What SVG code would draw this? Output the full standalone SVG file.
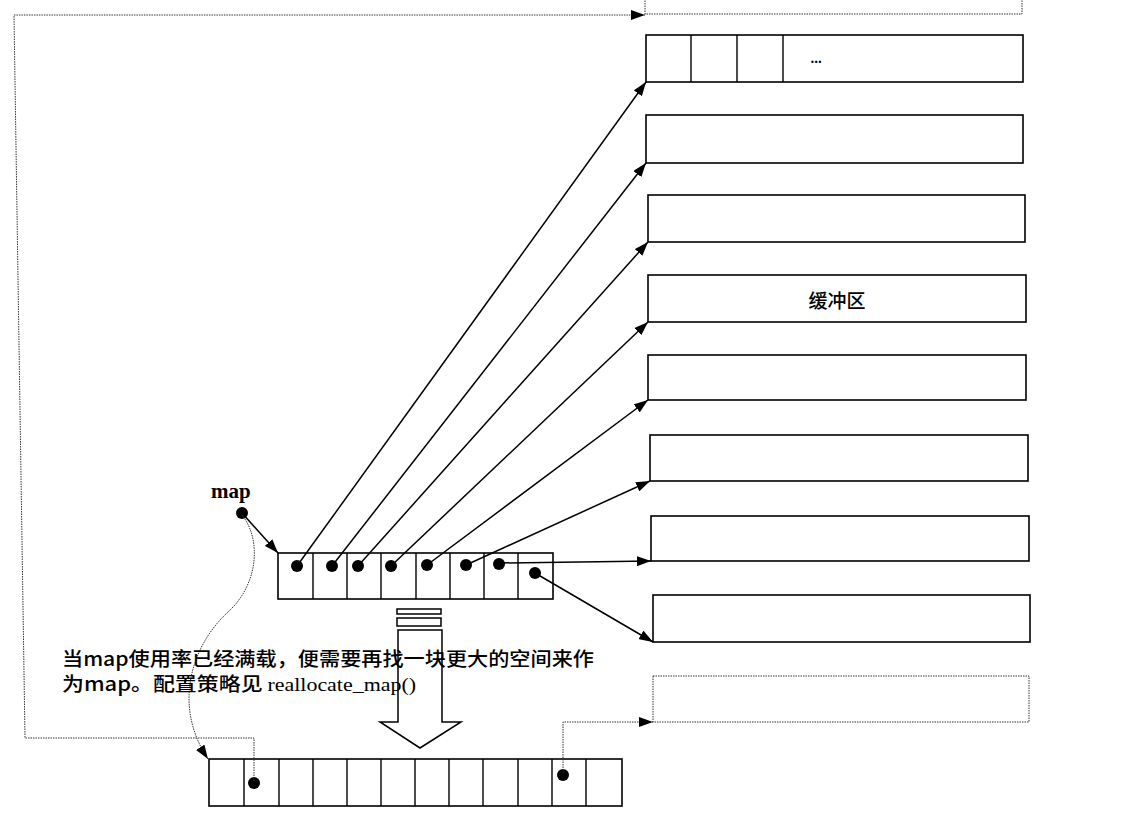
<svg xmlns="http://www.w3.org/2000/svg" width="1148" height="813" viewBox="0 0 1148 813">
<style>
.box{fill:#fff;stroke:#000;stroke-width:1.6}
.cell{fill:none;stroke:#000;stroke-width:1.4}
.dbox{fill:none;stroke:#333;stroke-width:1;stroke-dasharray:1.5,1}
.conn{fill:none;stroke:#000;stroke-width:1.5}
.dotted{fill:none;stroke:#333;stroke-width:1;stroke-dasharray:1.5,1}
.dot{fill:#000}
.cjk{font-family:"Noto Sans CJK SC","Noto Sans",sans-serif;font-size:19px;font-weight:500;fill:#000}
.serif{font-family:"Liberation Serif",serif;font-weight:normal}
</style>
<defs>
<marker id="ah" viewBox="0 0 14 10" refX="14" refY="5" markerWidth="14" markerHeight="10" markerUnits="userSpaceOnUse" orient="auto" preserveAspectRatio="none">
<path d="M0,0 L14,5 L0,10 z" fill="#000"/>
</marker>
</defs>

<!-- buffer nodes -->
<g id="buf0"><rect class="dbox" x="645" y="-40" width="377" height="54"/></g>
<g id="buf1">
<rect class="box" x="646" y="35" width="377" height="47"/>
<line class="cell" x1="691" y1="35" x2="691" y2="82"/>
<line class="cell" x1="737" y1="35" x2="737" y2="82"/>
<line class="cell" x1="783" y1="35" x2="783" y2="82"/>
<text x="816" y="63" text-anchor="middle" font-family="Liberation Serif,serif" font-weight="bold" font-size="15">...</text>
</g>
<g id="buf2"><rect class="box" x="646" y="115" width="377" height="48"/></g>
<g id="buf3"><rect class="box" x="648" y="195" width="377" height="47"/></g>
<g id="buf4"><rect class="box" x="648" y="275" width="378" height="47"/>
<text class="cjk" x="837" y="308" text-anchor="middle" font-size="19" font-weight="normal">缓冲区</text></g>
<g id="buf5"><rect class="box" x="648" y="355" width="378" height="45"/></g>
<g id="buf6"><rect class="box" x="650" y="435" width="378" height="46"/></g>
<g id="buf7"><rect class="box" x="651" y="516" width="378" height="45"/></g>
<g id="buf8"><rect class="box" x="653" y="595" width="377" height="47"/></g>
<g id="buf9"><rect class="dbox" x="653" y="676" width="376" height="46"/></g>

<!-- map node -->
<g id="map">
<rect x="347" y="553" width="34" height="46" fill="#f4f4f4"/>
<rect x="450" y="553" width="34" height="46" fill="#e4e4e4"/>
<rect x="484" y="553" width="34" height="46" fill="#f0f0f0"/>
<rect x="518" y="553" width="35" height="46" fill="#f2f2f2"/>
<rect class="box" x="278" y="553" width="275" height="46" fill="none"/>
<line class="cell" x1="313" y1="553" x2="313" y2="599"/>
<line class="cell" x1="347" y1="553" x2="347" y2="599"/>
<line class="cell" x1="381" y1="553" x2="381" y2="599"/>
<line class="cell" x1="416" y1="553" x2="416" y2="599"/>
<line class="cell" x1="450" y1="553" x2="450" y2="599"/>
<line class="cell" x1="484" y1="553" x2="484" y2="599"/>
<line class="cell" x1="518" y1="553" x2="518" y2="599"/>
<circle class="dot" cx="297" cy="566" r="6"/>
<circle class="dot" cx="332" cy="566" r="6"/>
<circle class="dot" cx="358" cy="566" r="6"/>
<circle class="dot" cx="391" cy="566" r="6"/>
<circle class="dot" cx="427" cy="565" r="6"/>
<circle class="dot" cx="466" cy="565" r="6"/>
<circle class="dot" cx="499" cy="564" r="6"/>
<circle class="dot" cx="535" cy="573" r="6"/>
</g>

<!-- map pointer -->
<g id="mapptr">
<text x="211" y="498" font-family="Liberation Serif,serif" font-weight="bold" font-size="21">map</text>
<circle class="dot" cx="242" cy="513" r="6"/>
</g>

<!-- new map node -->
<g id="newmap">
<rect x="347" y="759" width="34" height="47" fill="#f5f5f5"/>
<rect x="449" y="759" width="34" height="47" fill="#e6e6e6"/>
<rect class="box" x="209" y="759" width="413" height="47" fill="none"/>
<line class="cell" x1="244" y1="759" x2="244" y2="806"/>
<line class="cell" x1="279" y1="759" x2="279" y2="806"/>
<line class="cell" x1="313" y1="759" x2="313" y2="806"/>
<line class="cell" x1="347" y1="759" x2="347" y2="806"/>
<line class="cell" x1="381" y1="759" x2="381" y2="806"/>
<line class="cell" x1="415" y1="759" x2="415" y2="806"/>
<line class="cell" x1="449" y1="759" x2="449" y2="806"/>
<line class="cell" x1="483" y1="759" x2="483" y2="806"/>
<line class="cell" x1="518" y1="759" x2="518" y2="806"/>
<line class="cell" x1="552" y1="759" x2="552" y2="806"/>
<line class="cell" x1="586" y1="759" x2="586" y2="806"/>
<circle class="dot" cx="254" cy="783" r="6"/>
<circle class="dot" cx="563" cy="775" r="6"/>
</g>

<!-- big hollow arrow -->
<g id="bigarrow">
<rect x="397" y="609" width="44" height="5" fill="#fff" stroke="#000" stroke-width="1.5"/>
<rect x="397" y="618" width="44" height="8" fill="#fff" stroke="#000" stroke-width="1.5"/>
<path d="M398,630 V722 H380 L420,748 L461,722 H442 V630 Z" fill="#fff" stroke="#000" stroke-width="1.5"/>
</g>

<!-- connectors -->
<g id="connectors">
<line class="conn" x1="297" y1="566" x2="646" y2="82" marker-end="url(#ah)"/>
<line class="conn" x1="332" y1="566" x2="646" y2="163" marker-end="url(#ah)"/>
<line class="conn" x1="358" y1="566" x2="648" y2="242" marker-end="url(#ah)"/>
<line class="conn" x1="391" y1="566" x2="648" y2="322" marker-end="url(#ah)"/>
<line class="conn" x1="427" y1="565" x2="648" y2="400" marker-end="url(#ah)"/>
<line class="conn" x1="466" y1="565" x2="650" y2="481" marker-end="url(#ah)"/>
<line class="conn" x1="499" y1="563" x2="651" y2="561" marker-end="url(#ah)"/>
<line class="conn" x1="535" y1="573" x2="653" y2="642" marker-end="url(#ah)"/>
<line class="conn" x1="242" y1="513" x2="278" y2="553" marker-end="url(#ah)"/>
<path class="dotted" d="M242,515 C262,540 258,585 228,612 C192,645 172,705 208,759" marker-end="url(#ah)"/>
<path class="dotted" d="M254,781 V738 H25 L14,15 H645" marker-end="url(#ah)"/>
<path class="dotted" d="M563,773 V722 H653" marker-end="url(#ah)"/>
</g>

<!-- caption -->
<g id="caption">
<text class="cjk" x="62" y="666" textLength="532" lengthAdjust="spacingAndGlyphs">当map使用率已经满载，便需要再找一块更大的空间来作</text>
<text class="cjk" x="62" y="691" textLength="354" lengthAdjust="spacingAndGlyphs">为map。配置策略见 <tspan class="serif">reallocate_map()</tspan></text>
</g>
</svg>
